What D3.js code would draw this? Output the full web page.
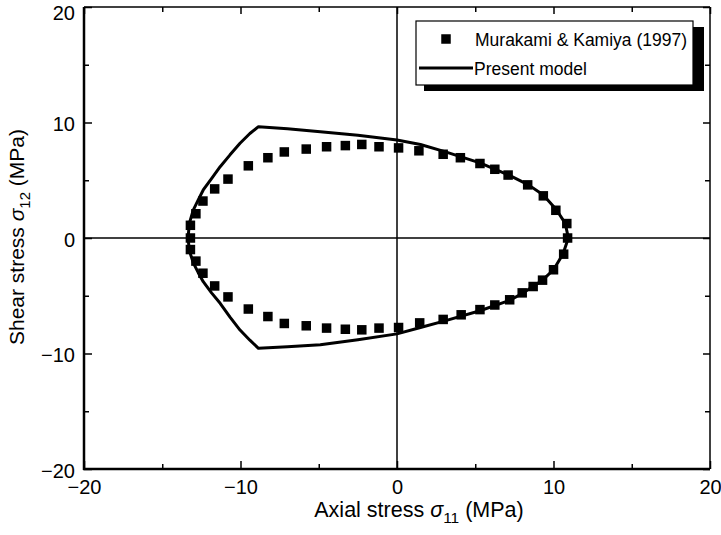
<!DOCTYPE html>
<html>
<head>
<meta charset="utf-8">
<script src="https://cdn.jsdelivr.net/npm/d3@7"></script>
<style>
  html, body { margin: 0; padding: 0; background: #fff; }
  svg { display: block; font-family: "Liberation Sans", Arial, Helvetica, sans-serif; }
</style>
</head>
<body>
<svg id="chart" width="721" height="535"></svg>
<script>
// Axis ranges and tick values
const xDomain = [-20, 20];
const yDomain = [-20, 20];
const majorTicks = [-20, -10, 0, 10, 20];
const minorTicks = [-15, -5, 5, 15];

// Experimental points: Murakami & Kamiya (1997), [sigma11, sigma12] in MPa
const expUpper = [
  [-13.2, 0.0], [-13.2, 1.1], [-12.85, 2.1], [-12.4, 3.2], [-11.65, 4.25], [-10.8, 5.1],
  [-9.5, 6.25], [-8.25, 6.95], [-7.2, 7.45], [-5.8, 7.7], [-4.5, 7.9], [-3.3, 8.0],
  [-2.25, 8.1], [-1.15, 7.9], [0.1, 7.8], [1.4, 7.55], [2.95, 7.25], [4.05, 6.95],
  [5.3, 6.45], [6.25, 5.95], [7.1, 5.45], [8.35, 4.6], [9.35, 3.65], [10.15, 2.4],
  [10.85, 1.25], [10.9, 0.0]
];
const expLower = [
  [-13.2, -1.0], [-12.85, -2.0], [-12.4, -3.05], [-11.65, -4.15], [-10.8, -5.1],
  [-9.5, -6.15], [-8.25, -6.8], [-7.2, -7.4], [-5.8, -7.6], [-4.5, -7.8], [-3.3, -7.9],
  [-2.25, -7.95], [-1.15, -7.8], [0.1, -7.75], [1.45, -7.35], [2.95, -7.05], [4.1, -6.65],
  [5.3, -6.2], [6.25, -5.8], [7.2, -5.35], [8.0, -4.75], [8.7, -4.2], [9.3, -3.65],
  [10.0, -2.75], [10.65, -1.4]
];

// Present model: closed yield curve, traced counter-clockwise from the right apex
const modelCurve = [
  [10.95, 0.0], [10.75, 1.27], [10.2, 2.42], [9.35, 3.72], [8.4, 4.6], [7.22, 5.4],
  [5.3, 6.5], [3.0, 7.5], [1.5, 8.1], [0.0, 8.48], [-2.5, 8.9], [-4.9, 9.2],
  [-7.0, 9.45], [-8.85, 9.64], [-9.4, 9.05], [-10.03, 8.2], [-10.67, 7.2],
  [-11.3, 6.17], [-11.84, 5.17], [-12.38, 4.16], [-12.7, 3.3], [-13.02, 2.42],
  [-13.27, 1.27], [-13.35, 0.0], [-13.27, -1.1], [-13.0, -2.2], [-12.7, -3.0],
  [-12.38, -3.78], [-11.85, -4.75], [-11.3, -5.65], [-10.67, -6.85], [-10.03, -7.97],
  [-9.4, -8.85], [-8.85, -9.55], [-7.0, -9.42], [-4.9, -9.25], [-2.5, -8.8],
  [0.0, -8.3], [1.5, -7.75], [3.0, -7.2], [5.3, -6.3], [7.2, -5.4], [8.0, -4.8],
  [9.3, -3.65], [10.0, -2.75], [10.6, -1.4], [10.95, 0.0]
];

const legendLabels = ["Murakami & Kamiya (1997)", "Present model"];

const svg = d3.select("#chart");
const plotLeft = 84, plotRight = 710, plotTop = 7, plotBottom = 469;

const x = d3.scaleLinear().domain(xDomain).range([plotLeft, plotRight]);
const y = d3.scaleLinear().domain(yDomain).range([plotBottom, plotTop]);

// Crosshair lines through the origin
svg.append("line")
  .attr("x1", x(0)).attr("x2", x(0)).attr("y1", plotTop).attr("y2", plotBottom)
  .attr("stroke", "#000").attr("stroke-width", 1.5);
svg.append("line")
  .attr("x1", plotLeft).attr("x2", plotRight).attr("y1", y(0)).attr("y2", y(0))
  .attr("stroke", "#000").attr("stroke-width", 1.5);

// Axes with inward-pointing ticks on all four sides
function styleAxis(g) {
  g.select(".domain").remove();
  g.selectAll(".tick line").attr("stroke", "#000").attr("stroke-width", 1.5);
  g.selectAll(".tick text")
    .attr("fill", "#000").attr("font-size", 20)
    .attr("font-family", "Liberation Sans, Arial, sans-serif");
}
const fmt = d => d < 0 ? "\u2212" + Math.abs(d) : String(d);

const gx = svg.append("g").attr("transform", `translate(0,${plotBottom})`)
  .call(d3.axisBottom(x).tickValues(majorTicks).tickSize(-8).tickPadding(11).tickFormat(fmt));
styleAxis(gx);
const gxm = svg.append("g").attr("transform", `translate(0,${plotBottom})`)
  .call(d3.axisBottom(x).tickValues(minorTicks).tickSize(-5).tickFormat(""));
styleAxis(gxm);

const gy = svg.append("g").attr("transform", `translate(${plotLeft},0)`)
  .call(d3.axisLeft(y).tickValues(majorTicks).tickSize(-8).tickPadding(9).tickFormat(fmt));
styleAxis(gy);
// the top label sits just below the upper edge so it stays fully on the page
gy.selectAll(".tick text").attr("dy", d => d === yDomain[1] ? "0.6em" : "0.42em");
const gym = svg.append("g").attr("transform", `translate(${plotLeft},0)`)
  .call(d3.axisLeft(y).tickValues(minorTicks).tickSize(-5).tickFormat(""));
styleAxis(gym);

const gt = svg.append("g").attr("transform", `translate(0,${plotTop})`)
  .call(d3.axisTop(x).tickValues(majorTicks).tickSize(-7).tickFormat(""));
styleAxis(gt);
const gtm = svg.append("g").attr("transform", `translate(0,${plotTop})`)
  .call(d3.axisTop(x).tickValues(minorTicks).tickSize(-5).tickFormat(""));
styleAxis(gtm);

const gr = svg.append("g").attr("transform", `translate(${plotRight},0)`)
  .call(d3.axisRight(y).tickValues(majorTicks).tickSize(-7).tickFormat(""));
styleAxis(gr);
const grm = svg.append("g").attr("transform", `translate(${plotRight},0)`)
  .call(d3.axisRight(y).tickValues(minorTicks).tickSize(-5).tickFormat(""));
styleAxis(grm);

// Frame: heavier left and bottom edges
svg.append("line").attr("x1", plotLeft).attr("x2", plotRight).attr("y1", plotTop).attr("y2", plotTop)
  .attr("stroke", "#000").attr("stroke-width", 1.5);
svg.append("line").attr("x1", plotRight).attr("x2", plotRight).attr("y1", plotTop).attr("y2", plotBottom)
  .attr("stroke", "#000").attr("stroke-width", 1.5);
svg.append("line").attr("x1", plotLeft).attr("x2", plotLeft).attr("y1", plotTop).attr("y2", plotBottom + 1)
  .attr("stroke", "#000").attr("stroke-width", 2.5);
svg.append("line").attr("x1", plotLeft - 1).attr("x2", plotRight).attr("y1", plotBottom).attr("y2", plotBottom)
  .attr("stroke", "#000").attr("stroke-width", 2.5);

// Model curve
const line = d3.line().x(d => x(d[0])).y(d => y(d[1]));
svg.append("path")
  .datum(modelCurve)
  .attr("d", line)
  .attr("fill", "none")
  .attr("stroke", "#000")
  .attr("stroke-width", 3)
  .attr("stroke-linejoin", "round");

// Experimental squares
const sq = 9.5;
svg.append("g").selectAll("rect")
  .data(expUpper.concat(expLower))
  .join("rect")
  .attr("x", d => x(d[0]) - sq / 2)
  .attr("y", d => y(d[1]) - sq / 2)
  .attr("width", sq).attr("height", sq)
  .attr("fill", "#000");

// Legend with drop shadow
const lg = svg.append("g");
const lx = 416, ly = 21, lw = 277, lh = 64;
lg.append("rect").attr("x", lx + 8).attr("y", ly + 6).attr("width", lw + 3).attr("height", lh)
  .attr("fill", "#000");
lg.append("rect").attr("x", lx).attr("y", ly).attr("width", lw).attr("height", lh)
  .attr("fill", "#fff").attr("stroke", "#000").attr("stroke-width", 1.2);
lg.append("rect").attr("x", 446 - sq / 2).attr("y", 39 - sq / 2).attr("width", sq).attr("height", sq)
  .attr("fill", "#000");
lg.append("line").attr("x1", 419).attr("x2", 473).attr("y1", 68).attr("y2", 68)
  .attr("stroke", "#000").attr("stroke-width", 3);
lg.append("text").attr("x", 475).attr("y", 45.5).attr("font-size", 17.5).text(legendLabels[0]);
lg.append("text").attr("x", 474).attr("y", 74.5).attr("font-size", 17.5).text(legendLabels[1]);

// Axis titles
const xt = svg.append("text")
  .attr("x", 419).attr("y", 517)
  .attr("text-anchor", "middle").attr("font-size", 21.5);
xt.append("tspan").text("Axial stress ");
xt.append("tspan").attr("font-style", "italic").text("\u03C3");
xt.append("tspan").attr("font-size", 15.5).attr("dy", 6).text("11");
xt.append("tspan").attr("dy", -6).text(" (MPa)");

const yt = svg.append("text")
  .attr("transform", `translate(24,${237}) rotate(-90)`)
  .attr("text-anchor", "middle").attr("font-size", 21);
yt.append("tspan").text("Shear stress ");
yt.append("tspan").attr("font-style", "italic").text("\u03C3");
yt.append("tspan").attr("font-size", 15).attr("dy", 6).text("12");
yt.append("tspan").attr("dy", -6).text(" (MPa)");
</script>
</body>
</html>
